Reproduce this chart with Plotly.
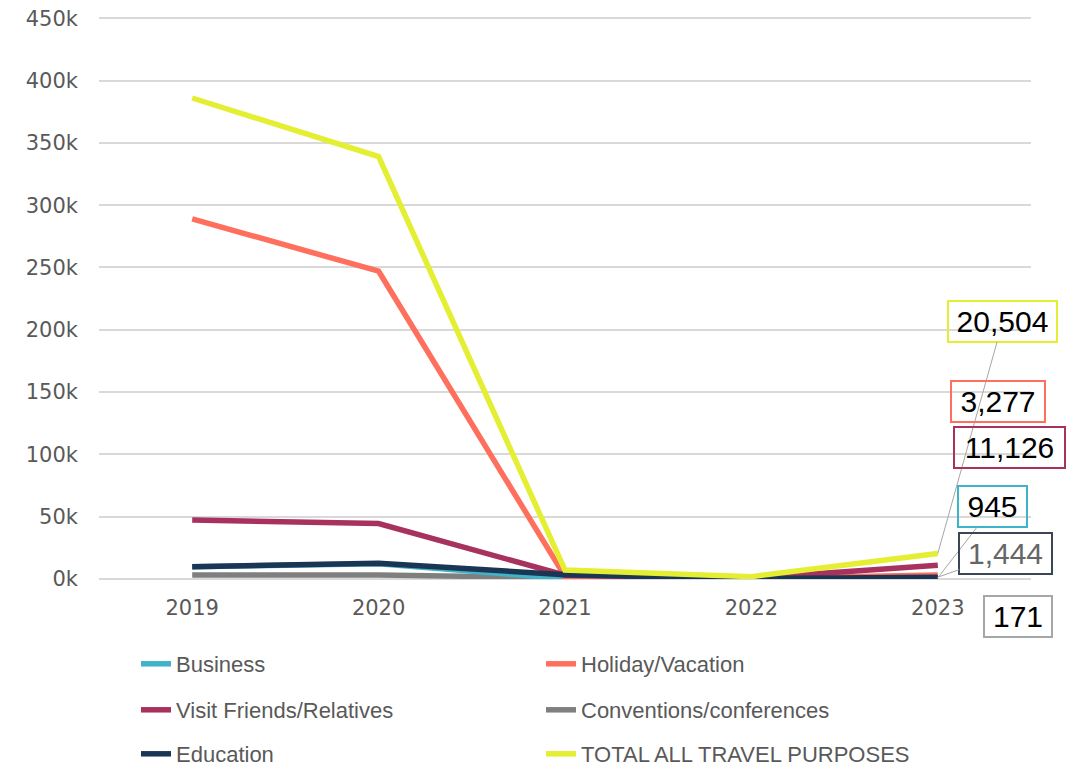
import plotly.graph_objects as go

years = ["2019", "2020", "2021", "2022", "2023"]

business = [9800, 12300, 300, 100, 945]
holiday = [289000, 247000, 2000, 500, 3277]
vfr = [47300, 44500, 3000, 600, 11126]
conventions = [3200, 3200, 1000, 100, 171]
education = [9900, 12600, 3500, 300, 1444]
total = [386000, 339000, 7200, 1900, 20504]

series = [
    ("Business", business, "#3FB4C8", 1),
    ("Holiday/Vacation", holiday, "#FF6F5E", 2),
    ("Visit Friends/Relatives", vfr, "#A8325E", 3),
    ("Conventions/conferences", conventions, "#7F7F7F", 4),
    ("Education", education, "#1B3655", 5),
    ("TOTAL ALL TRAVEL PURPOSES", total, "#E4EE32", 6),
]
legend_of = {1: "legend", 2: "legend", 3: "legend2", 4: "legend2", 5: "legend3", 6: "legend3"}
draw_order = [4, 1, 2, 3, 5, 6]

ytick_vals = [0, 50000, 100000, 150000, 200000, 250000, 300000, 350000, 400000, 450000]
ytick_text = ["0k", "50k", "100k", "150k", "200k", "250k", "300k", "350k", "400k", "450k"]

# page body margin offset (8px) compensation
OFF = 8
W, H = 1079 - OFF, 768 - OFF
PL, PR, PT, PB = 99 - OFF, 1031 - OFF, 17 - OFF, 579 - OFF

fig = go.Figure()
for rank in draw_order:
    name, vals, color, r = series[rank - 1]
    fig.add_trace(go.Scatter(
        x=years, y=vals, name=name, mode="lines",
        line=dict(color=color, width=5.5),
        legend=legend_of[r], legendrank=r,
    ))

last = len(years) - 1
# labels at 2023: (value, text color, border color, ax, ay, leader visible, width)
labels = [
    (total[last], "#000000", "#E4EE32", 65, -232, True, 101),
    (holiday[last], "#000000", "#FF6F5E", 60, -173, False, 86),
    (vfr[last], "#000000", "#A8325E", 72, -118, False, 103),
    (business[last], "#000000", "#3FB4C8", 55, -71, True, 61),
    (education[last], "#666666", "#3A4556", 68, -24, True, 85),
    (conventions[last], "#000000", "#A6A6A6", 80, 38, False, 60),
]
for v, tc, bc, ax, ay, vis, w in labels:
    fig.add_annotation(
        x=last, y=v, xref="x", yref="y", text=f"{v:,}",
        showarrow=True, arrowhead=0, arrowwidth=1,
        arrowcolor="#A6A6A6" if vis else "rgba(0,0,0,0)",
        ax=ax, ay=ay, bgcolor="rgba(255,255,255,0)",
        bordercolor=bc, borderwidth=2, borderpad=3, width=w,
        font=dict(family="Liberation Sans, Arial, sans-serif", size=30, color=tc),
    )

def row_y(pix):
    return (579 - pix) / 562

legend_common = dict(
    orientation="h", xref="paper", yref="paper",
    x=(136 - 99) / 932, xanchor="left", yanchor="middle",
    entrywidth=360, entrywidthmode="pixels",
    font=dict(family="Liberation Sans, Arial, sans-serif", size=22, color="#595959"),
    bgcolor="rgba(0,0,0,0)", traceorder="normal",
)

fig.update_layout(
    width=W, height=H,
    margin=dict(l=PL, r=W - PR, t=PT, b=H - PB, autoexpand=False),
    paper_bgcolor="white", plot_bgcolor="white",
    showlegend=True,
    legend=dict(legend_common, y=row_y(664)),
    legend2=dict(legend_common, y=row_y(710)),
    legend3=dict(legend_common, y=row_y(754)),
    xaxis=dict(
        type="category", range=[-0.5, 4.5], showgrid=False, showline=False, zeroline=False,
        tickfont=dict(family="DejaVu Sans, sans-serif", size=21, color="#595959"),
        ticklabelstandoff=14,
    ),
    yaxis=dict(
        range=[0, 451000], tickvals=ytick_vals, ticktext=ytick_text,
        showgrid=True, gridcolor="#D9D9D9", gridwidth=1.5,
        zeroline=True, zerolinecolor="#D9D9D9", zerolinewidth=1.5,
        showline=False, ticklabeloverflow="allow",
        tickfont=dict(family="DejaVu Sans, sans-serif", size=21, color="#595959"),
        ticklabelstandoff=20,
    ),
)

fig.write_html("out.html")
